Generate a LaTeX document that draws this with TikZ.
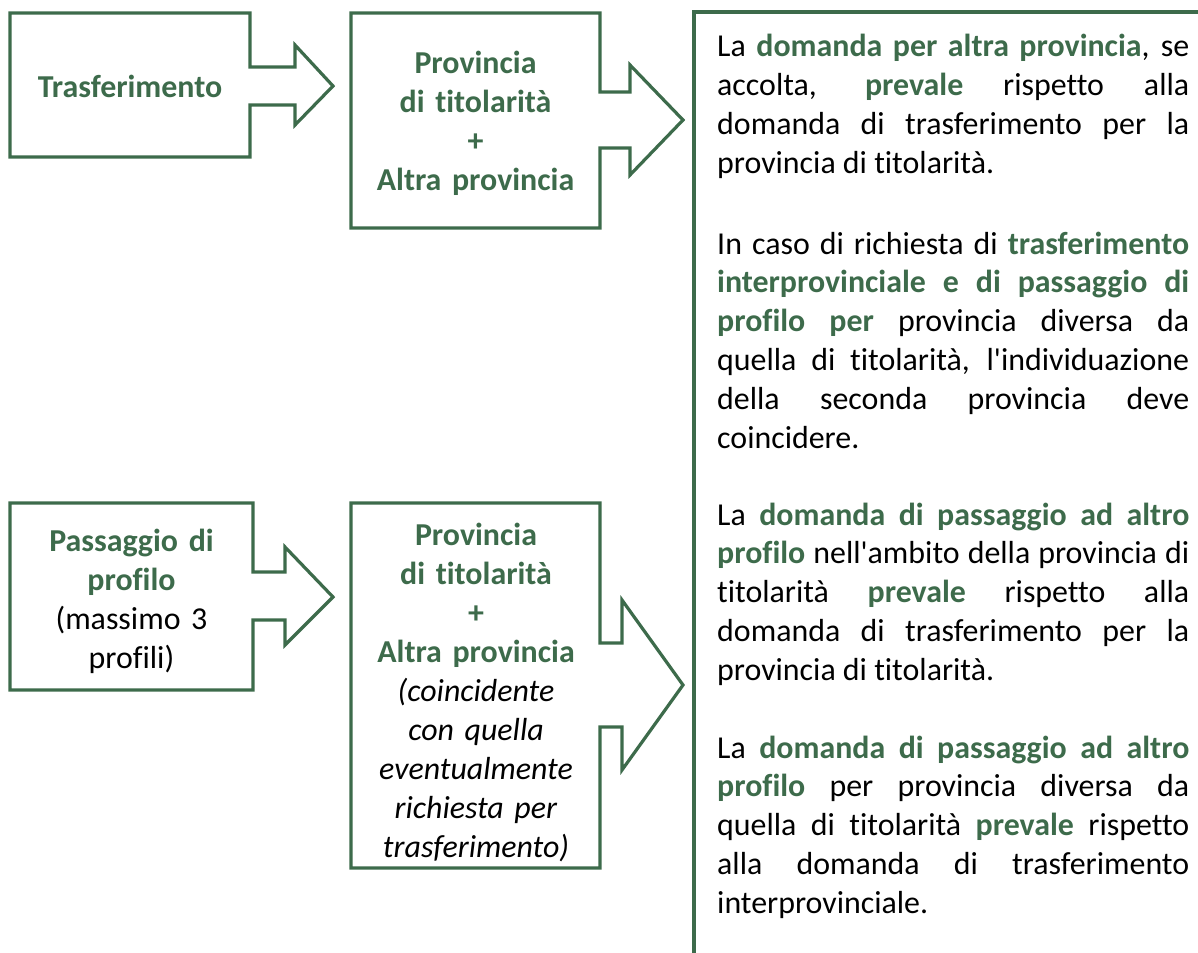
\documentclass[tikz,border=0pt]{standalone}
\usepackage{fontspec}
\setmainfont{Carlito}[Ligatures={TeX,NoCommon,NoContextual},Contextuals={NoAlternate}]
\usepackage{tikz}
\newcommand{\evid}[1]{\textbf{\color{provgreen}#1}}
\newcommand{\nota}[1]{\begin{minipage}[t]{472pt}\hyphenpenalty=10000 \tolerance=10000 #1\end{minipage}}

\begin{document}
\begin{tikzpicture}[x=1pt, y=-1pt,
	callout/.style={draw=provgreen, line width=3.2pt, fill=white},
	boxtext/.style={inner sep=0pt, anchor=north, text width=240pt, align=center,
		font=\fontsize{31.9}{38.95}\selectfont},
	notetext/.style={inner sep=0pt, anchor=base west, font=\fontsize{31.9}{38.95}\selectfont}]
			\definecolor{provgreen}{RGB}{61,107,75}
				\useasboundingbox (0,0) rectangle (1198,952);
				
				% frecce a sinistra
				\draw[callout](10,13)--(250,13)--(250,67)--(295,67)--(295,45)--(333,86)--(295,125)--(295,105)--(250,105)--(250,157)--(10,157)--cycle;
				\draw[callout](351,13)--(600,13)--(600,92)--(630,92)--(630,65)--(683,120)--(630,175)--(630,148)--(600,148)--(600,228)--(351,228)--cycle;
				\draw[callout](10,503)--(253,503)--(253,572)--(285,572)--(285,547)--(333,597)--(285,645)--(285,620)--(253,620)--(253,690)--(10,690)--cycle;
				\draw[callout](351,503)--(600,503)--(600,643)--(622,643)--(622,600)--(683,685)--(622,770)--(622,727)--(600,727)--(600,868)--(351,868)--cycle;
				
				% riquadro delle note
				\draw[callout, fill=none](1210,12)--(694,12)--(694,965);
				
				\node[boxtext] (trasf) at (130,70.5) {\strut\evid{Trasferimento}};
				\node[boxtext] (provtit) at (475.5,46.5) {\strut\evid{Provincia}\\ \evid{di titolarità}\\ \evid{+}\\ \evid{Altra provincia}};
				\node[boxtext] (passprof) at (131.5,524) {\strut\evid{Passaggio di}\\ \evid{profilo}\\ (massimo 3\\ profili)};
				\node[boxtext] (provalt) at (476,518) {\strut\evid{Provincia}\\ \evid{di titolarità}\\ \evid{+}\\ \evid{Altra provincia}\\ \textit{(coincidente}\\ \textit{con quella}\\ \textit{eventualmente}\\ \textit{richiesta per}\\ \textit{trasferimento)}};
				
				\node[notetext] (nota1) at (717,57) {\nota{La \evid{domanda per altra provincia}, se\linebreak accolta, \evid{prevale} rispetto alla\linebreak domanda di trasferimento per la\linebreak provincia di titolarità.}};
				\node[notetext] (nota2) at (717,254) {\nota{In caso di richiesta di \evid{trasferimento}\linebreak \evid{interprovinciale e di passaggio di}\linebreak \evid{profilo per} provincia diversa da\linebreak quella di titolarità, l\textquotesingle individuazione\linebreak della seconda provincia deve\linebreak coincidere.}};
				\node[notetext] (nota3) at (717,525) {\nota{La \evid{domanda di passaggio ad altro}\linebreak \evid{profilo} nell\textquotesingle ambito della provincia di\linebreak titolarità \evid{prevale} rispetto alla\linebreak domanda di trasferimento per la\linebreak provincia di titolarità.}};
				\node[notetext] (nota4) at (717,758) {\nota{La \evid{domanda di passaggio ad altro}\linebreak \evid{profilo} per provincia diversa da\linebreak quella di titolarità \evid{prevale} rispetto\linebreak alla domanda di trasferimento\linebreak interprovinciale.}};
		\end{tikzpicture}
\end{document}
